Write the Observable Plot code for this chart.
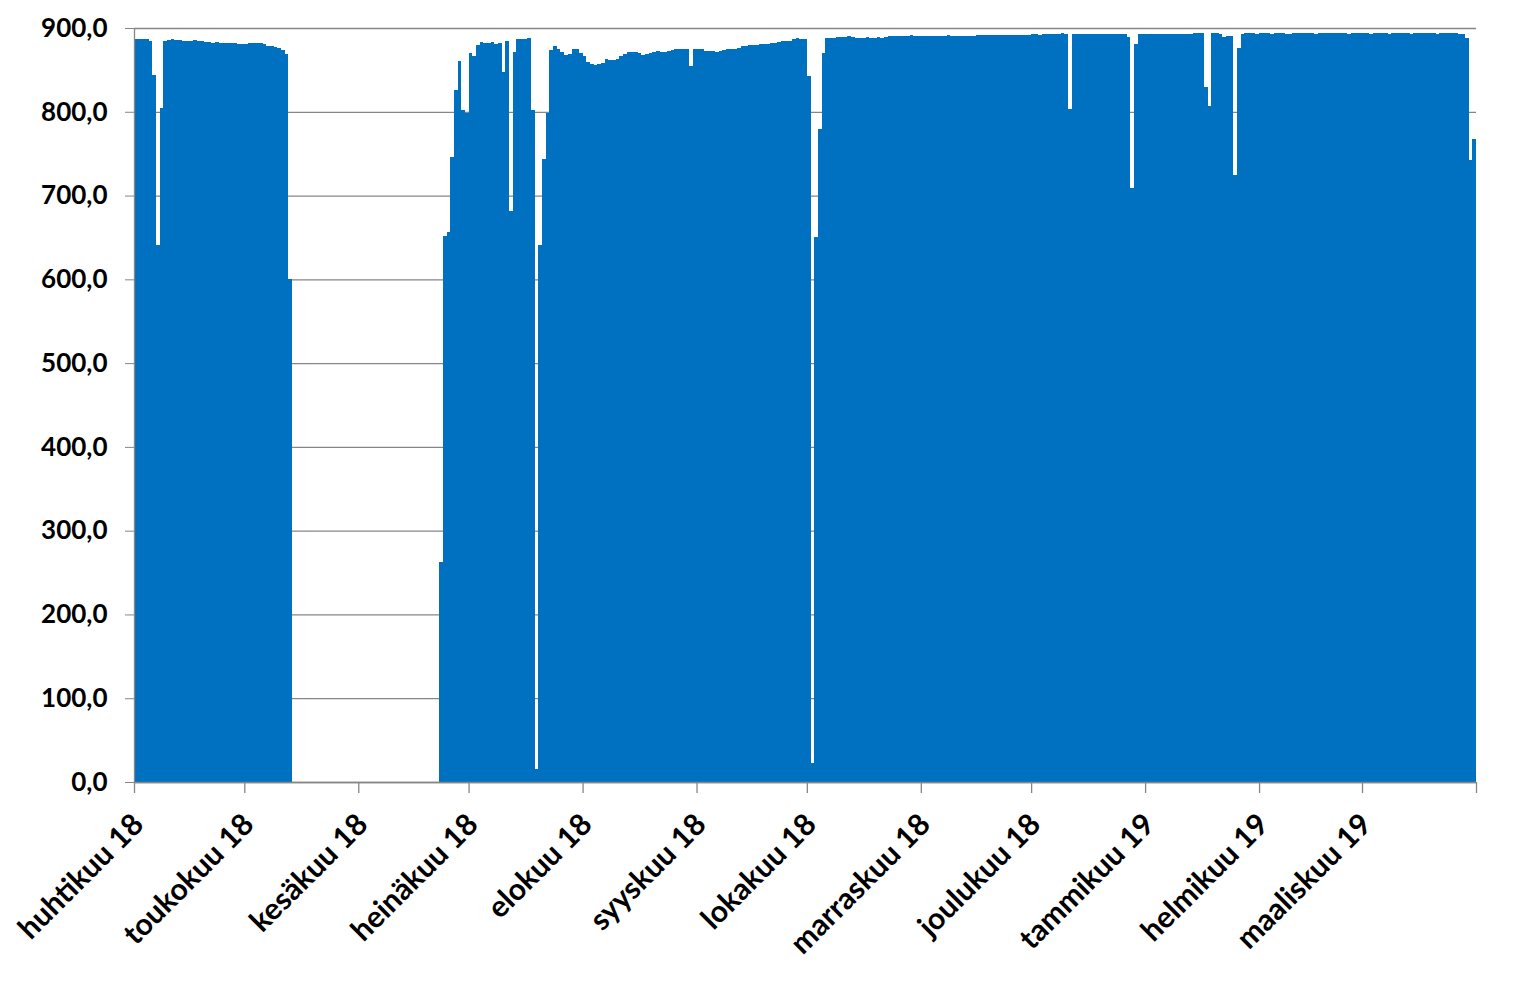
<!DOCTYPE html>
<html>
<head>
<meta charset="utf-8">
<script src="https://cdn.jsdelivr.net/npm/d3@7"></script>
<script src="https://cdn.jsdelivr.net/npm/@observablehq/plot@0.6"></script>
<style>
  html, body { margin: 0; padding: 0; background: #fff; }
  #chart { width: 1527px; height: 997px; }
</style>
</head>
<body>
<div id="chart"></div>
<script>
// Daily values, one array per month (null = no data)
const apr18 = [887,887,887,887,885,844,641,805,884,886,887,886,886,884,884,884,886,884,884,883,883,882,883,882,882,882,882,882,881,881];
const may18 = [881,882,882,882,882,881,878,878,877,876,874,869,600,
  null,null,null,null,null,null,null,null,null,null,null,null,null,null,null,null,null,null];
const jun18 = [null,null,null,null,null,null,null,null,null,null,null,null,null,null,null,null,null,null,null,null,null,null,
  263,652,656,746,826,861,802,799];
const jul18 = [870,867,880,883,882,882,883,881,882,847,884,682,871,887,887,887,888,802,16,641,744,799,874,879,875,871,868,869,875,875,870];
const aug18 = [867,859,857,856,857,858,863,862,862,863,867,869,871,871,871,870,868,869,870,871,872,871,871,872,874,875,875,875,875,855,875];
const sep18 = [875,875,873,873,873,871,873,874,875,875,875,876,879,879,880,880,880,881,881,881,882,882,883,884,884,884,887,888,887,887];
const oct18 = [843,23,650,779,870,888,888,888,889,889,889,890,889,888,888,888,889,888,888,889,888,889,890,890,890,890,891,890,892,891,891];
const nov18 = [891,891,891,891,891,891,891,892,891,891,891,891,891,891,891,892,892,892,892,892,892,892,892,892,892,892,892,892,892,892];
const dec18 = [893,893,892,893,893,893,893,893,894,893,803,893,893,893,893,893,893,893,893,893,893,893,893,893,893,893,889,709,881,893,893];
const jan19 = [893,893,893,893,893,893,893,893,893,893,893,893,893,894,894,894,830,807,894,894,893,889,890,890,725,876,893,894,894,894,893];
const feb19 = [894,894,894,893,894,894,894,893,893,894,894,894,894,894,894,893,894,894,894,894,894,894,894,894,893,894,894,894];
const mar19 = [894,894,893,894,894,894,894,893,894,894,894,894,894,893,894,894,894,894,894,894,893,894,894,894,894,894,893,893,888,742,768];

const months = [apr18, may18, jun18, jul18, aug18, sep18, oct18, nov18, dec18, jan19, feb19, mar19];
const monthNames = ["huhtikuu 18","toukokuu 18","kesäkuu 18","heinäkuu 18","elokuu 18","syyskuu 18",
  "lokakuu 18","marraskuu 18","joulukuu 18","tammikuu 19","helmikuu 19","maaliskuu 19"];
const yTicks = [0,100,200,300,400,500,600,700,800,900];

const DAY = 864e5;
const t0 = Date.UTC(2018, 3, 1);
const tEnd = Date.UTC(2019, 3, 1);
const values = months.flat();
const data = values.map((v, i) => ({
  start: new Date(t0 + i * DAY),
  end: new Date(t0 + (i + 1) * DAY),
  value: v
}));

const monthTicks = [];
for (let m = 0; m <= 12; m++) monthTicks.push(new Date(Date.UTC(2018, 3 + m, 1)));
const labelOf = d => {
  const idx = (d.getUTCFullYear() - 2018) * 12 + d.getUTCMonth() - 3;
  return monthNames[idx] ?? "";
};

const grey = "#868686";
const plot = Plot.plot({
  width: 1527,
  height: 997,
  marginLeft: 134,
  marginRight: 51,
  marginTop: 28,
  marginBottom: 215,
  style: {fontFamily: "Lato, sans-serif", fontWeight: "bold", fontSize: "26px", color: "#000", background: "#fff", overflow: "visible"},
  x: {type: "utc", domain: [new Date(t0), new Date(tEnd)], label: null},
  y: {domain: [0, 900], label: null},
  marks: [
    Plot.gridY(yTicks, {stroke: grey, strokeOpacity: 1, strokeWidth: 1.3}),
    Plot.rectY(data, {x1: "start", x2: "end", y: "value", fill: "#0070C0", shapeRendering: "crispEdges"}),
    Plot.ruleY([0], {stroke: grey, strokeWidth: 1.3}),
    Plot.ruleX([new Date(t0)], {stroke: grey, strokeWidth: 1.3}),
    Plot.axisY(yTicks, {tickSize: 9, tickPadding: 18, stroke: grey, fill: "#000", label: null,
      fontSize: 26, fontWeight: "bold",
      tickFormat: d => d.toFixed(1).replace(".", ",")}),
    // tick marks only
    Plot.axisX(monthTicks, {tickSize: 11, stroke: grey, strokeWidth: 1.3, label: null, tickFormat: () => ""}),
    // rotated month labels
    Plot.axisX(monthTicks, {tickSize: 0, tickPadding: 37, dx: 4, tickRotate: -45, fill: "#000", label: null,
      fontSize: 30, fontWeight: "bold",
      tickFormat: labelOf})
  ]
});
document.getElementById("chart").appendChild(plot);
</script>
</body>
</html>
